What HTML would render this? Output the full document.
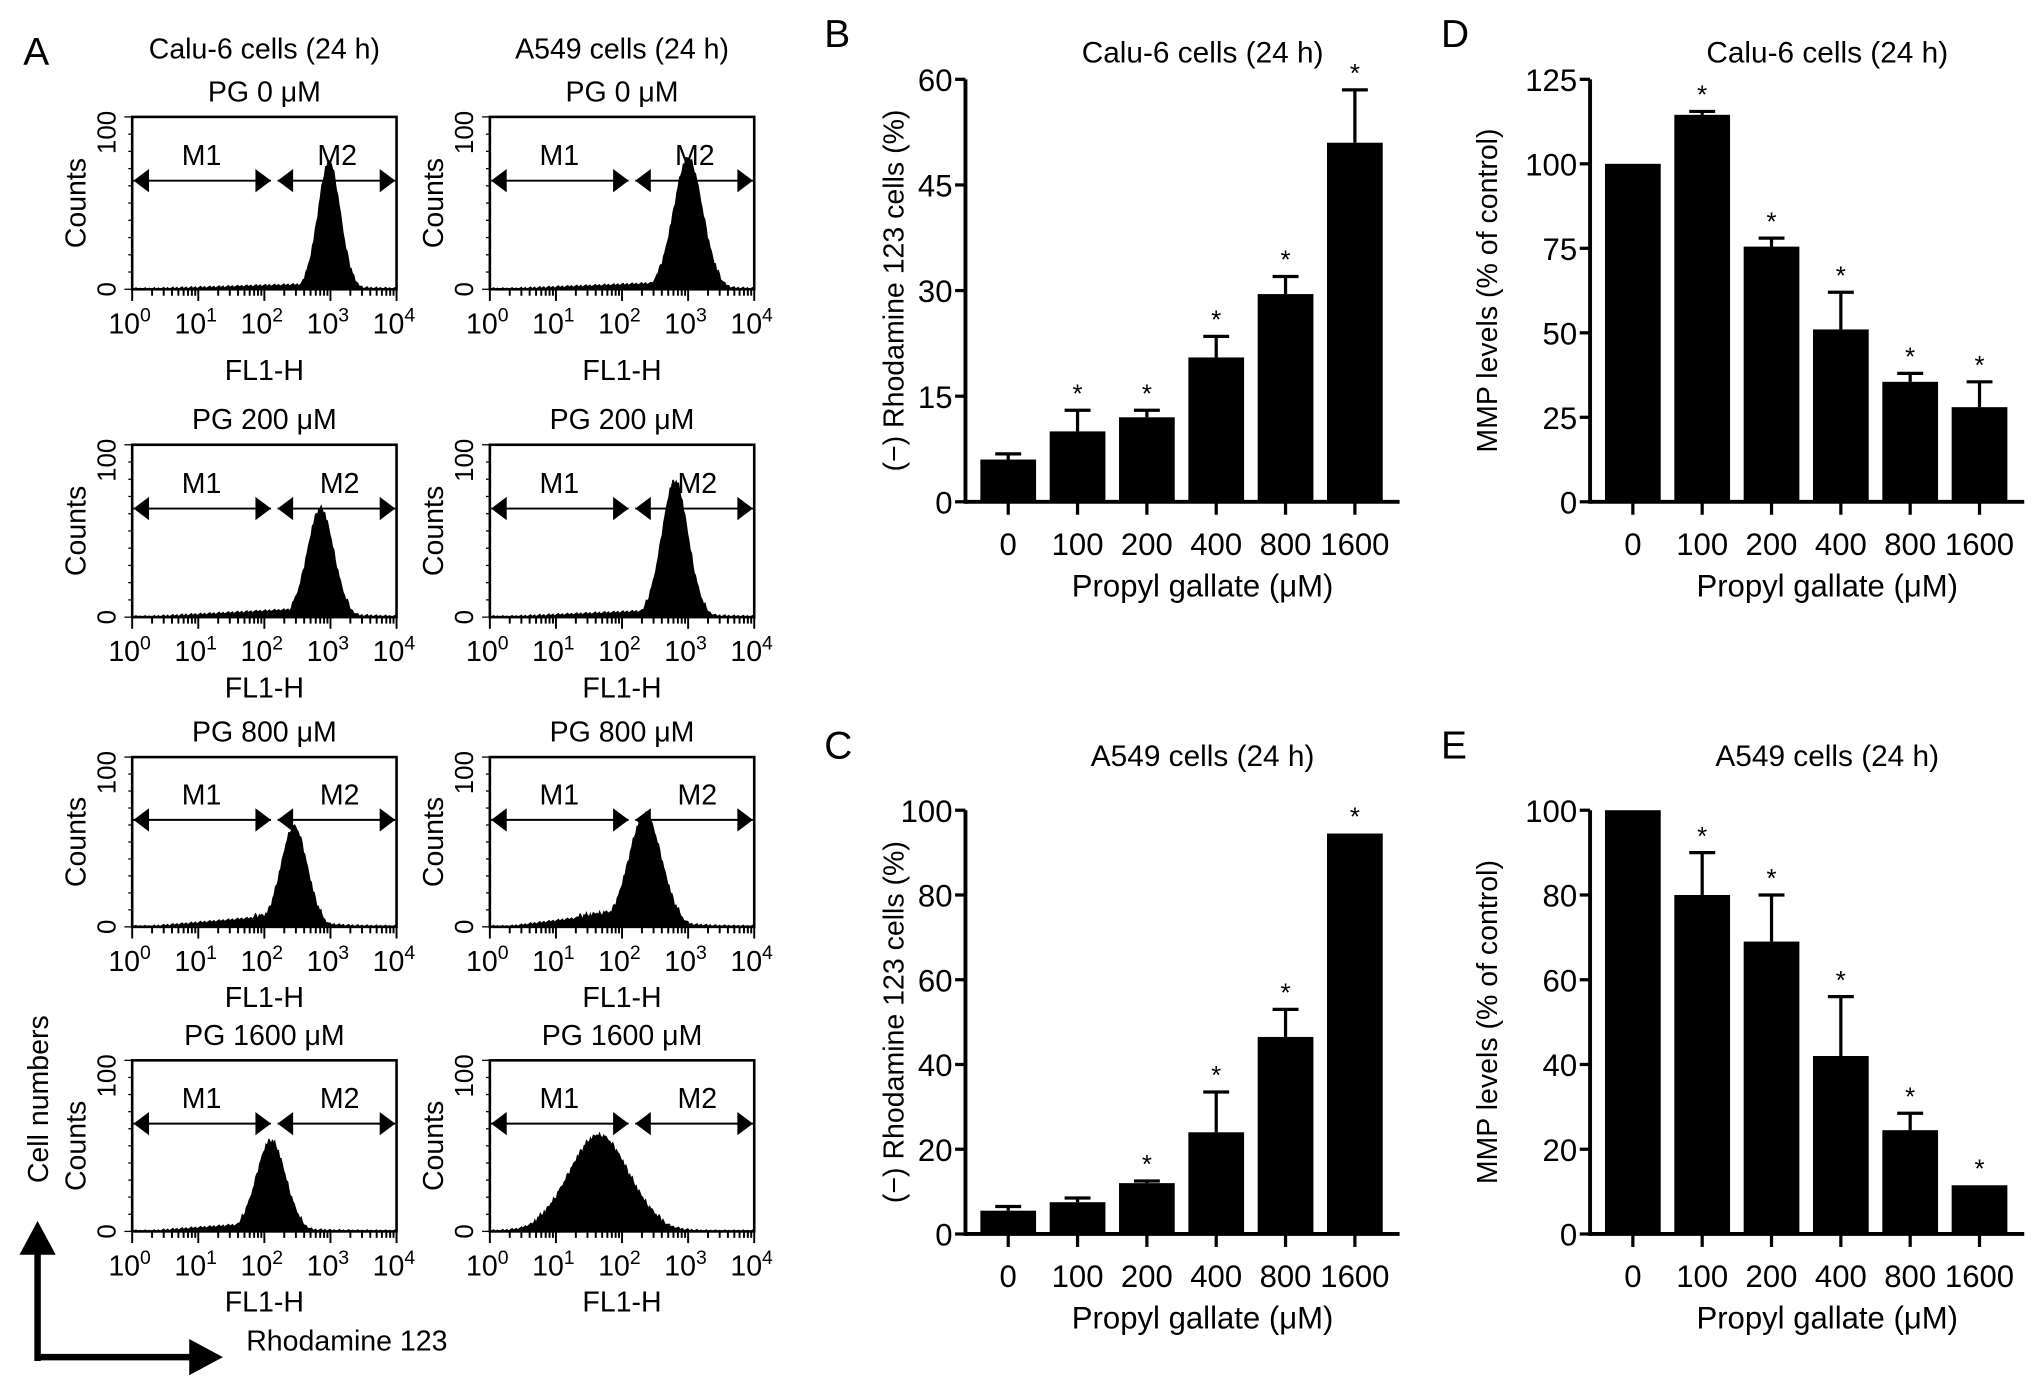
<!DOCTYPE html>
<html><head><meta charset="utf-8"><style>
html,body{margin:0;padding:0;background:#fff;}
svg{display:block;font-family:"Liberation Sans",sans-serif;}
.n{font-family:"Liberation Sans Narrow","Liberation Sans",sans-serif;}
</style></head><body>
<svg id="fig" width="2032" height="1382" viewBox="0 0 1568 1066" xmlns="http://www.w3.org/2000/svg"></svg>
<script>
// ---- Panel A histogram data (peak log position, spread, peak height fraction, baseline fraction) ----
const histTitles = ["PG 0 \u03bcM","PG 200 \u03bcM","PG 800 \u03bcM","PG 1600 \u03bcM"];
const histCenterCalu = [2.98, 2.85, 2.45, 2.1];
const histSpreadCalu = [0.17, 0.2, 0.2, 0.22];
const histHeightCalu = [0.73, 0.62, 0.58, 0.52];
const histBaseCalu = [0.03, 0.05, 0.07, 0.05];
const histCenterA549 = [3.0, 2.8, 2.35, 1.65];
const histSpreadA549 = [0.22, 0.2, 0.25, 0.45];
const histHeightA549 = [0.75, 0.78, 0.65, 0.55];
const histBaseA549 = [0.04, 0.04, 0.1, 0.03];
const logTicks = ["0","1","2","3","4"];

// ---- Bar chart data ----
const doses = ["0","100","200","400","800","1600"];
const bValues = [6, 10, 12, 20.5, 29.5, 51];
const bErrors = [0.8, 3, 1, 3, 2.5, 7.5];
const bStars = [false, true, true, true, true, true];
const bTicks = [0, 15, 30, 45, 60];
const cValues = [5.5, 7.5, 12, 24, 46.5, 94.5];
const cErrors = [1, 1, 0.5, 9.5, 6.5, 0];
const cStars = [false, false, true, true, true, true];
const cTicks = [0, 20, 40, 60, 80, 100];
const dValues = [100, 114.5, 75.5, 51, 35.5, 28];
const dErrors = [0, 1, 2.5, 11, 2.5, 7.5];
const dStars = [false, true, true, true, true, true];
const dTicks = [0, 25, 50, 75, 100, 125];
const eValues = [100, 80, 69, 42, 24.5, 11.5];
const eErrors = [0, 10, 11, 14, 4, 0];
const eStars = [false, true, true, true, true, true];
const eTicks = [0, 20, 40, 60, 80, 100];

const svg = document.getElementById('fig');
const NS = 'http://www.w3.org/2000/svg';
function mk(tag, attrs, parent, text){
  const e = document.createElementNS(NS, tag);
  for (const k in attrs) e.setAttribute(k, attrs[k]);
  if (text !== undefined) e.textContent = text;
  (parent||svg).appendChild(e);
  return e;
}

// Panel letters
[["A",18,50],["B",636,36],["C",636,585],["D",1112,36],["E",1112,585]].forEach(p=>{
  const t = mk('text',{x:p[1],y:p[2],'font-size':30},svg,p[0]);
  
  
});

// ---- Panel A ----
const colL = [102, 378], boxW = 204;
const rowTop = [90, 343, 584, 818];
const rowBot = [223, 476, 715, 950];
const colTitles = ["Calu-6 cells (24 h)","A549 cells (24 h)"];
colTitles.forEach((t,i)=>{
  const e = mk('text',{x:colL[i]+boxW/2,y:45,'font-size':22,'text-anchor':'middle'},svg,t);
  
  
});
const hx = (L,v)=> L + v/4*boxW;
for (let r=0;r<4;r++){
  for (let c=0;c<2;c++){
    const L = colL[c], T = rowTop[r], B = rowBot[r], boxH = B-T;
    const g = mk('g',{});
    
    
    mk('text',{x:L+boxW/2,y:T-12,'font-size':22,'text-anchor':'middle'},g,histTitles[r]);
    const cen = c?histCenterA549[r]:histCenterCalu[r];
    const sp = c?histSpreadA549[r]:histSpreadCalu[r];
    const h = c?histHeightA549[r]:histHeightCalu[r];
    const base = c?histBaseA549[r]:histBaseCalu[r];
    let d = 'M'+L+','+B;
    for (let i=0;i<=200;i++){
      const v = i/200*4;
      let f = h*Math.exp(-Math.pow(v-cen,2)/(2*sp*sp));
      const shoulder = base*Math.min(1,Math.max(0,(v-0.3)/(cen-0.3)));
      f = Math.max(f, shoulder*(v<cen?1:Math.exp(-(v-cen)*3)));
      f += 0.015*(((i*37)%7)/7) + (f>0.05?0.03*(((i*53)%5)/5):0);
      d += ' L'+hx(L,v).toFixed(1)+','+(B-f*boxH).toFixed(1);
    }
    d += ' L'+(L+boxW)+','+B+' Z';
    const hp = mk('path',{d:d,fill:'#000'},g);
    
    
    mk('rect',{x:L,y:T,width:boxW,height:boxH,fill:'none',stroke:'#000','stroke-width':2},g);
    for (let dec=0;dec<4;dec++){
      for (let k=1;k<=9;k++){
        const x = hx(L,dec+Math.log10(k));
        mk('line',{x1:x,y1:B,x2:x,y2:B+(k===1?9:5),stroke:'#000','stroke-width':1.5},g);
      }
    }
    mk('line',{x1:L+boxW,y1:B,x2:L+boxW,y2:B+9,stroke:'#000','stroke-width':1.5},g);
    for (let k=0;k<=10;k++){
      mk('line',{x1:L-(k%10===0?6:3),y1:B-k*boxH/10,x2:L,y2:B-k*boxH/10,stroke:'#000','stroke-width':1},g);
    }
    logTicks.forEach((lt,i)=>{
      const t = mk('text',{x:hx(L,+lt)-2,y:B+34,'font-size':22,'text-anchor':'middle'},g,'10');
      mk('tspan',{dy:-9,'font-size':15},t,lt);
    });
    mk('text',{x:L+boxW/2,y:B+(r===0?70:62),'font-size':22,'text-anchor':'middle'},g,'FL1-H');
    mk('text',{x:0,y:0,'font-size':20,'text-anchor':'middle',transform:'translate('+(L-13)+','+(T+12)+') rotate(-90)'},g,'100');
    mk('text',{x:0,y:0,'font-size':20,'text-anchor':'middle',transform:'translate('+(L-13)+','+(B)+') rotate(-90)'},g,'0');
    const ct = mk('text',{x:0,y:0,'font-size':22,'text-anchor':'middle',transform:'translate('+(L-36)+','+(T+boxH/2)+') rotate(-90)'},g,'Counts');
    
    
    const ay = T+boxH*0.37;
    const m1e = hx(L,2.1), m2s = hx(L,2.2);
    function arrow(x1,x2){
      mk('line',{x1:x1,y1:ay,x2:x2,y2:ay,stroke:'#000','stroke-width':1.5},g);
      mk('path',{d:'M'+x1+','+ay+' l12,-9 v18 z',fill:'#000'},g);
      mk('path',{d:'M'+x2+','+ay+' l-12,-9 v18 z',fill:'#000'},g);
    }
    arrow(L+1,m1e); arrow(m2s,L+boxW-1);
    mk('text',{x:(L+m1e)/2,y:ay-12,'font-size':22,'text-anchor':'middle'},g,'M1');
    mk('text',{x:r===0?m2s+46:(m2s+L+boxW)/2+2,y:ay-12,'font-size':22,'text-anchor':'middle'},g,'M2');
  }
}
const axg = mk('g',{});


mk('path',{d:'M29,1050 V960',stroke:'#000','stroke-width':5,fill:'none'},axg);
mk('path',{d:'M29,942 l-14,26 h28 z',fill:'#000'},axg);
mk('path',{d:'M27,1047 H150',stroke:'#000','stroke-width':5,fill:'none'},axg);
mk('path',{d:'M172,1047 l-26,-14 v28 z',fill:'#000'},axg);
mk('text',{x:0,y:0,'font-size':22,'text-anchor':'middle',transform:'translate(37,848) rotate(-90)'},axg,'Cell numbers');
mk('text',{x:190,y:1042,'font-size':22},axg,'Rhodamine 123');

// ---- Bar charts ----
function barChart(name, axX, yTop, yBot, maxV, ticks, vals, errs, stars, title, titleY, ylabel, ylabX){
  const g = mk('g',{class:'n'});
  
  
  const step = 53.5, x0 = axX+33, bw = 43;
  const yS = v => yBot - v/maxV*(yBot-yTop);
  const xS = i => x0 + i*step;
  const tt = mk('text',{x:axX+183,y:titleY,'font-size':23,'text-anchor':'middle'},g,title);
  
  
  vals.forEach((v,i)=>{
    const x = xS(i);
    const top = yS(v+errs[i]);
    if (errs[i]>0){
      mk('line',{x1:x,y1:yS(v),x2:x,y2:top,stroke:'#000','stroke-width':2.5},g);
      mk('line',{x1:x-10,y1:top,x2:x+10,y2:top,stroke:'#000','stroke-width':2.5},g);
    }
    const b = mk('rect',{x:x-bw/2,y:yS(v),width:bw,height:yBot-yS(v),fill:'#000'},g);
    
    
    if (stars[i]){
      const s = mk('text',{x:x,y:top-6,'font-size':20,'text-anchor':'middle'},g,'*');
      
      
    }
    mk('line',{x1:x,y1:yBot,x2:x,y2:yBot+10,stroke:'#000','stroke-width':2.5},g);
    mk('text',{x:x,y:yBot+41,'font-size':24,'text-anchor':'middle'},g,doses[i]);
  });
  mk('line',{x1:axX,y1:yTop,x2:axX,y2:yBot+1.5,stroke:'#000','stroke-width':3},g);
  mk('line',{x1:axX,y1:yBot,x2:axX+335,y2:yBot,stroke:'#000','stroke-width':3},g);
  ticks.forEach(t=>{
    mk('line',{x1:axX-8,y1:yS(t),x2:axX,y2:yS(t),stroke:'#000','stroke-width':2.5},g);
    mk('text',{x:axX-10,y:yS(t)+9,'font-size':24,'text-anchor':'end'},g,String(t));
  });
  const xt = mk('text',{x:axX+183,y:yBot+73,'font-size':24,'text-anchor':'middle'},g,'Propyl gallate (\u03bcM)');
  
  
  const yt = mk('text',{x:0,y:0,'font-size':22,'text-anchor':'middle',style:'font-family:"Liberation Sans",sans-serif',transform:'translate('+ylabX+','+((yTop+yBot)/2)+') rotate(-90)'},g,ylabel);
  
  
}
barChart('chart-b-calu6-rhodamine',745,61,387,60,bTicks,bValues,bErrors,bStars,'Calu-6 cells (24 h)',48,'(\u2212) Rhodamine 123 cells (%)',697);
barChart('chart-c-a549-rhodamine',745,625,952,100,cTicks,cValues,cErrors,cStars,'A549 cells (24 h)',591,'(\u2212) Rhodamine 123 cells (%)',697);
barChart('chart-d-calu6-mmp',1227,61,387,125,dTicks,dValues,dErrors,dStars,'Calu-6 cells (24 h)',48,'MMP levels (% of control)',1155);
barChart('chart-e-a549-mmp',1227,625,952,100,eTicks,eValues,eErrors,eStars,'A549 cells (24 h)',591,'MMP levels (% of control)',1155);
</script>
</body></html>
